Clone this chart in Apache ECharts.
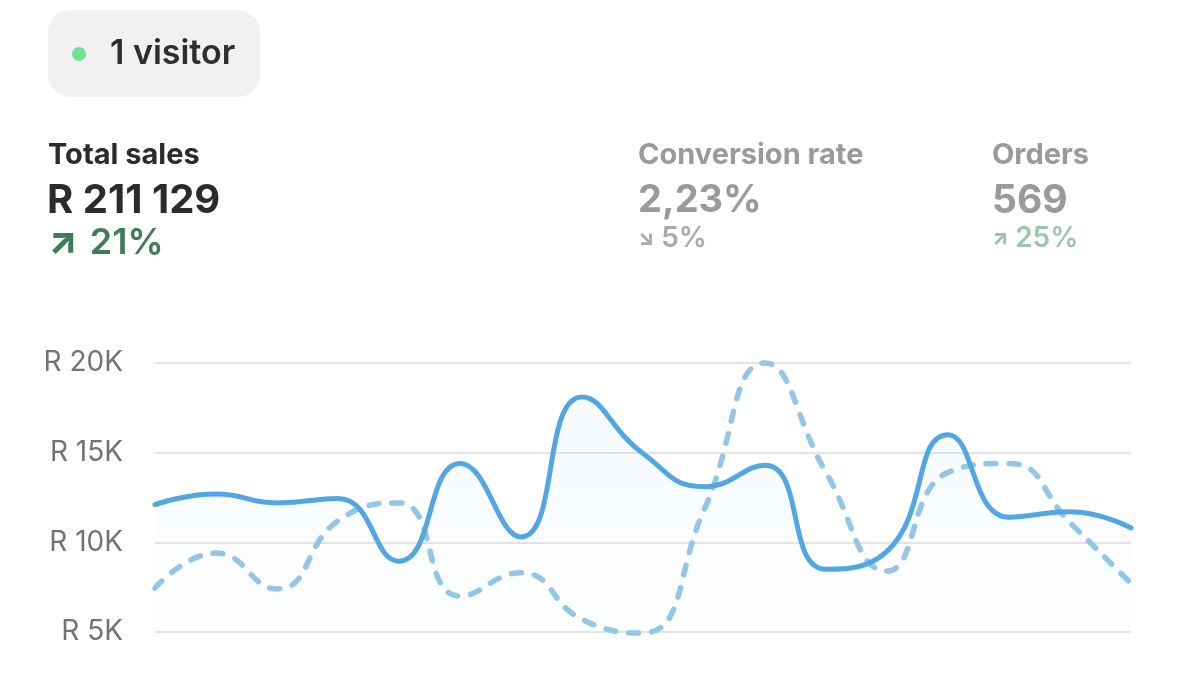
<!DOCTYPE html>
<html>
<head>
<meta charset="utf-8">
<title>Total sales</title>
<script src="https://cdn.jsdelivr.net/npm/echarts@6/dist/echarts.min.js"></script>
<style>
  html, body { margin: 0; padding: 0; background: #fff; }
  #main { width: 1179px; height: 688px; }
</style>
</head>
<body>
<div id="main"></div>
<script>
// categories (days of the period)
var days = ['1', '2', '3', '4', '5', '6', '7', '8', '9', '10', '11', '12', '13', '14', '15', '16', '17'];
// current period sales (solid)
var salesNow = [12100, 12700, 12200, 12450, 8950, 14400, 10300, 18100, 14950, 13100, 14300, 8500, 9500, 16000, 11400, 11700, 10800];
// previous period sales (dashed)
var salesPrev = [7450, 9400, 7400, 11200, 12200, 7000, 8300, 5700, 4950, 11800, 20000, 13900, 8400, 13900, 14400, 11100, 7700];
// y axis ticks
var yTicks = [5000, 10000, 15000, 20000];

var myChart = echarts.init(document.getElementById('main'));

var font = 'Inter, "Noto Sans", sans-serif';

var option = {
    animation: false,
    grid: { left: 155, right: 48, top: 363, bottom: 56 },
    xAxis: {
        type: 'category',
        data: days,
        boundaryGap: false,
        show: false
    },
    yAxis: {
        type: 'value',
        min: yTicks[0],
        max: yTicks[yTicks.length - 1],
        interval: 5000,
        axisLine: { show: false },
        axisTick: { show: false },
        axisLabel: {
            margin: 32,
            fontFamily: font,
            fontSize: 28,
            color: '#737373',
            formatter: function (v) { return 'R ' + v / 1000 + 'K'; }
        },
        splitLine: { lineStyle: { color: '#e4e4e4', width: 2 } }
    },
    series: [{
        name: 'previous',
        type: 'line',
        data: salesPrev,
        smooth: true,
        symbol: 'none',
        clip: false,
        lineStyle: { color: '#93c5e4', width: 5.5, type: [10, 13], cap: 'round' }
    }, {
        name: 'current',
        type: 'line',
        data: salesNow,
        smooth: true,
        symbol: 'none',
        clip: false,
        lineStyle: { color: '#52a6e1', width: 5, cap: 'round' },
        areaStyle: {
            color: new echarts.graphic.LinearGradient(0, 0, 0, 1, [
                { offset: 0, color: 'rgba(82,166,225,0.08)' },
                { offset: 1, color: 'rgba(82,166,225,0.01)' }
            ])
        }
    }],
    graphic: [
        { type: 'rect', shape: { x: 48, y: 10, width: 212, height: 87, r: 22 }, style: { fill: '#f1f1f1' } },
        { type: 'circle', shape: { cx: 79, cy: 54, r: 7 }, style: { fill: '#72e294' } },
        { type: 'text', x: 110, y: 54, style: { text: '1 visitor', font: '600 34px ' + font, fill: '#2e2e2e', verticalAlign: 'middle' } },

        { type: 'text', x: 48, y: 155, style: { text: 'Total sales', font: '700 29px ' + font, fill: '#2b2b2b', verticalAlign: 'middle' } },
        { type: 'text', x: 47, y: 201, style: { text: 'R 211 129', font: '700 40px ' + font, fill: '#2b2b2b', verticalAlign: 'middle' } },
        { type: 'text', x: 48, y: 243, style: {
            text: '{a|↗}{b|21%}', verticalAlign: 'middle',
            rich: {
                a: { fontFamily: font, fontSize: 38, fontWeight: 800, fill: '#3e7d57', padding: [0, 12, 0, 0] },
                b: { fontFamily: font, fontSize: 36, fontWeight: 600, fill: '#3e7d57' }
            }
        } },

        { type: 'text', x: 638, y: 155, style: { text: 'Conversion rate', font: '700 29px ' + font, fill: '#9a9a9a', verticalAlign: 'middle' } },
        { type: 'text', x: 638, y: 201, style: { text: '2,23%', font: '700 38px ' + font, fill: '#9a9a9a', verticalAlign: 'middle' } },
        { type: 'text', x: 638, y: 239, style: {
            text: '{a|↘}  {b|5%}', verticalAlign: 'middle',
            rich: {
                a: { fontFamily: font, fontSize: 21, fontWeight: 800, fill: '#aaaaaa' },
                b: { fontFamily: font, fontSize: 28, fontWeight: 600, fill: '#aaaaaa' }
            }
        } },

        { type: 'text', x: 992, y: 155, style: { text: 'Orders', font: '700 29px ' + font, fill: '#9a9a9a', verticalAlign: 'middle' } },
        { type: 'text', x: 992, y: 201, style: { text: '569', font: '700 39px ' + font, fill: '#9a9a9a', verticalAlign: 'middle' } },
        { type: 'text', x: 992, y: 239, style: {
            text: '{a|↗}  {b|25%}', verticalAlign: 'middle',
            rich: {
                a: { fontFamily: font, fontSize: 21, fontWeight: 800, fill: '#9cc6ab' },
                b: { fontFamily: font, fontSize: 28, fontWeight: 600, fill: '#9cc6ab' }
            }
        } }
    ]
};

myChart.setOption(option);
</script>
</body>
</html>
